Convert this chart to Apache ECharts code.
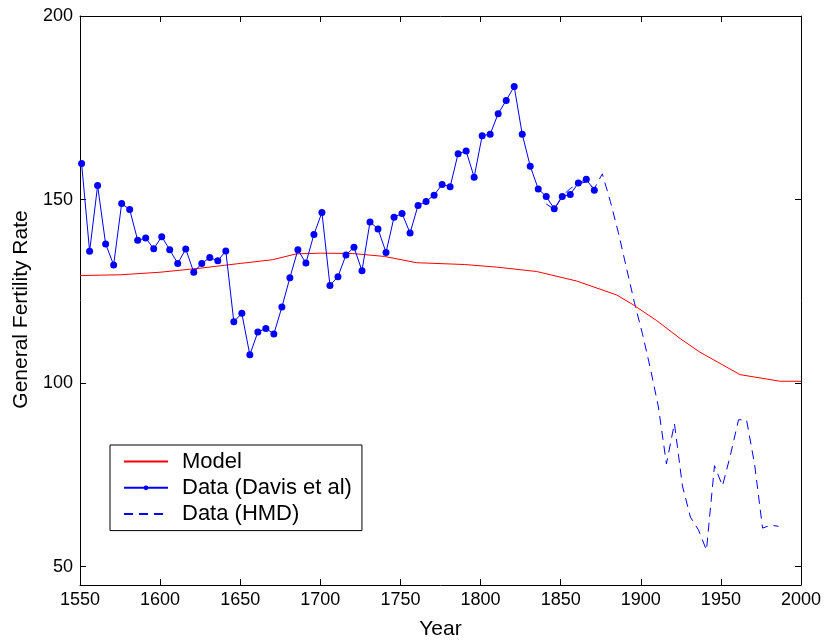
<!DOCTYPE html>
<html>
<head>
<meta charset="utf-8">
<script src="https://cdn.jsdelivr.net/npm/echarts@6/dist/echarts.min.js"></script>
<style>
  html, body { margin: 0; padding: 0; background: #fff; }
  #chart { width: 827px; height: 643px; }
</style>
</head>
<body>
<div id="chart"></div>
<script>
// Axis ticks
const xTicks = [1550, 1600, 1650, 1700, 1750, 1800, 1850, 1900, 1950, 2000];
const yTicks = [50, 100, 150, 200];

// Model: general fertility rate
const modelYears = [1550, 1575, 1600, 1625, 1650, 1670, 1685, 1700, 1720, 1740, 1760, 1790,
                    1810, 1835, 1860, 1885, 1895, 1910, 1925, 1937, 1962, 1987, 2000];
const modelValues = [129.3, 129.5, 130.2, 131.3, 132.6, 133.6, 135.2, 135.4, 135.3, 134.5, 132.8, 132.3,
                     131.6, 130.4, 127.8, 124.0, 121.4, 117.0, 112.0, 108.4, 102.3, 100.5, 100.5];

// Data (Davis et al), five-year observations
const davisYears = [1551, 1556, 1561, 1566, 1571, 1576, 1581, 1586, 1591, 1596,
                    1601, 1606, 1611, 1616, 1621, 1626, 1631, 1636, 1641, 1646,
                    1651, 1656, 1661, 1666, 1671, 1676, 1681, 1686, 1691, 1696,
                    1701, 1706, 1711, 1716, 1721, 1726, 1731, 1736, 1741, 1746,
                    1751, 1756, 1761, 1766, 1771, 1776, 1781, 1786, 1791, 1796,
                    1801, 1806, 1811, 1816, 1821, 1826, 1831, 1836, 1841, 1846,
                    1851, 1856, 1861, 1866, 1871];
const davisValues = [159.8, 135.9, 153.8, 137.9, 132.2, 148.9, 147.3, 138.9, 139.5, 136.6,
                     139.9, 136.3, 132.6, 136.5, 130.2, 132.6, 134.2, 133.3, 136.0, 116.7,
                     119.0, 107.7, 113.9, 114.9, 113.4, 120.7, 128.7, 136.3, 132.7, 140.5,
                     146.5, 126.6, 129.0, 134.9, 137.0, 130.6, 143.9, 142.0, 135.6, 145.2,
                     146.2, 140.9, 148.4, 149.5, 151.2, 154.1, 153.5, 162.5, 163.2, 156.1,
                     167.4, 167.8, 173.4, 177.0, 180.8, 167.8, 159.1, 152.9, 150.8, 147.5,
                     150.8, 151.4, 154.5, 155.5, 152.5];

// Data (HMD)
const hmdYears = [1841, 1846, 1851, 1856, 1861, 1866, 1871, 1876, 1881, 1886,
                  1891, 1896, 1901, 1906, 1911, 1916, 1921, 1926, 1931, 1936,
                  1941, 1946, 1951, 1956, 1961, 1966, 1971, 1976, 1981, 1986];
const hmdValues = [148.8, 147.3, 151.0, 153.0, 154.3, 154.8, 153.0, 157.0, 149.5, 141.0,
                   131.5, 122.0, 113.5, 104.0, 93.5, 78.0, 89.0, 72.0, 63.5, 60.0,
                   54.5, 77.5, 72.0, 80.5, 90.0, 90.0, 78.0, 60.5, 61.3, 61.0];

const pairs = (xs, ys) => xs.map((x, i) => [x, ys[i]]);

const FONT = '"Liberation Sans", Arial, sans-serif';
const axisLine = { show: true, onZero: false, lineStyle: { color: '#000', width: 1 } };
const tickIn = { show: true, inside: true, length: 6, lineStyle: { color: '#000', width: 1 } };
const plain = (v) => String(v);

const chart = echarts.init(document.getElementById('chart'), null, { renderer: 'canvas' });
chart.setOption({
  animation: false,
  backgroundColor: '#fff',
  grid: { left: 80, right: 26, top: 16, bottom: 58, containLabel: false, outerBoundsMode: 'none' },
  xAxis: [
    {
      type: 'value', position: 'bottom', min: xTicks[0], max: xTicks[xTicks.length - 1], interval: 50,
      name: 'Year', nameLocation: 'middle', nameGap: 34,
      nameTextStyle: { color: '#000', fontFamily: FONT, fontSize: 21 },
      axisLine: axisLine, axisTick: tickIn, splitLine: { show: false },
      axisLabel: { color: '#000', fontFamily: FONT, fontSize: 18, margin: 6, formatter: plain }
    },
    {
      type: 'value', position: 'top', min: xTicks[0], max: xTicks[xTicks.length - 1], interval: 50,
      axisLine: axisLine, axisTick: tickIn, splitLine: { show: false },
      axisLabel: { show: false }
    }
  ],
  yAxis: [
    {
      type: 'value', position: 'left', min: 45, max: 200,
      name: 'General Fertility Rate', nameLocation: 'middle', nameGap: 47,
      nameTextStyle: { color: '#000', fontFamily: FONT, fontSize: 21, padding: [0, 18, 0, 0] },
      axisLine: axisLine, splitLine: { show: false },
      axisTick: Object.assign({ customValues: yTicks }, tickIn),
      axisLabel: { customValues: yTicks, color: '#000', fontFamily: FONT, fontSize: 18, margin: 7, formatter: plain }
    },
    {
      type: 'value', position: 'right', min: 45, max: 200,
      axisLine: axisLine, splitLine: { show: false },
      axisTick: Object.assign({ customValues: yTicks }, tickIn),
      axisLabel: { show: false }
    }
  ],
  legend: {
    orient: 'vertical', left: 110, top: 445,
    backgroundColor: '#fff', borderColor: '#000', borderWidth: 1,
    padding: [5.5, 10, 5.5, 13], itemGap: 4.3, itemWidth: 44, itemHeight: 6,
    selectedMode: false,
    textStyle: { color: '#000', fontFamily: FONT, fontSize: 22, lineHeight: 22, padding: [0, 0, 0, 9] },
    data: [
      { name: 'Model', itemStyle: { opacity: 0 } },
      { name: 'Data (Davis et al)' },
      { name: 'Data (HMD)', itemStyle: { opacity: 0 } }
    ]
  },
  series: [
    {
      name: 'Model', type: 'line', data: pairs(modelYears, modelValues),
      symbol: 'none', lineStyle: { color: '#ff0000', width: 1 }, itemStyle: { color: '#ff0000' }, z: 3
    },
    {
      name: 'Data (Davis et al)', type: 'line', data: pairs(davisYears, davisValues),
      symbol: 'circle', symbolSize: 7, showSymbol: true,
      lineStyle: { color: '#0000ff', width: 1 }, itemStyle: { color: '#0000ff' }, z: 4
    },
    {
      name: 'Data (HMD)', type: 'line', data: pairs(hmdYears, hmdValues),
      symbol: 'none', lineStyle: { color: '#0000ff', width: 1, type: [9, 6] },
      itemStyle: { color: '#0000ff' }, z: 2
    }
  ]
});
</script>
</body>
</html>
